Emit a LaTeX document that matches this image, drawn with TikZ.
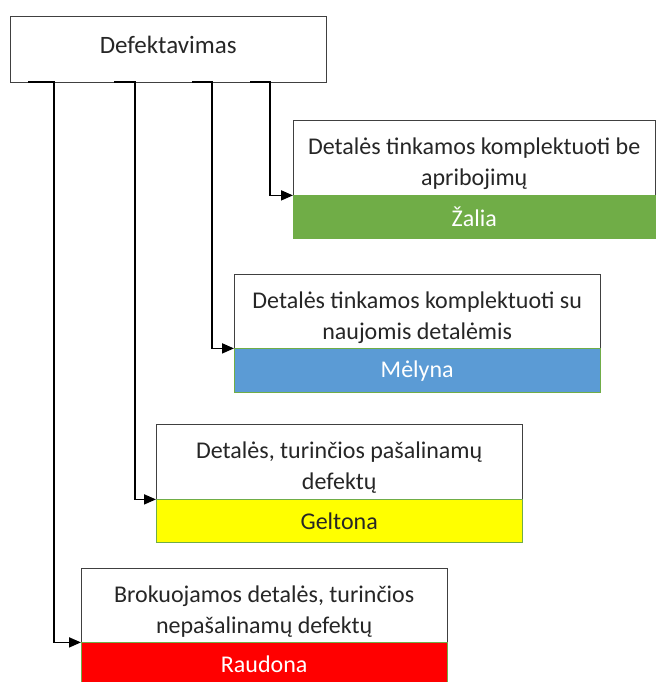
\documentclass[tikz,border=0pt]{standalone}
\usepackage{fontspec}
\setmainfont{Carlito}
\usepackage{xcolor}
\usetikzlibrary{arrows.meta,positioning}

\definecolor{zaliaC}{HTML}{70AD47}
\definecolor{melynaC}{HTML}{5B9BD5}
\definecolor{geltonaC}{HTML}{FFFF00}
\definecolor{raudonaC}{HTML}{FF0000}

% extra room above the first line
\newcommand{\topgap}{\rule{0pt}{29pt}}

\begin{document}
\begin{tikzpicture}[x=1pt, y=-1pt,
    txtbox/.style={rectangle, draw=black!75, fill=white, minimum width=366pt, minimum height=75pt, inner sep=0pt, align=center, anchor=north west, font=\fontsize{24}{31}\selectfont, text=black!85},
    strip/.style={rectangle, draw=zaliaC, minimum width=366pt, minimum height=43pt, inner sep=0pt, font=\fontsize{24}{28}\selectfont, text=white},
    link/.style={-{Triangle[length=12pt, width=10pt]}, line width=1.8pt}
]
\useasboundingbox (0,0) rectangle (656,682);

% Root
\node[rectangle, draw=black!75, minimum width=316pt, minimum height=66pt, anchor=north west, font=\fontsize{25}{28}\selectfont, text=black!85] (def) at (10,16) {\raisebox{9pt}{Defektavimas}};

% Groups
\node[txtbox, minimum width=362pt] (tinka) at (293,120) {\topgap Detalės tinkamos komplektuoti be\\apribojimų};
\node[strip, fill=zaliaC, minimum width=362pt, below=0pt of tinka] (zalia) {Žalia};

\node[txtbox, minimum height=74pt] (naujos) at (234,274) {\topgap Detalės tinkamos komplektuoti su\\naujomis detalėmis};
\node[strip, fill=melynaC, minimum height=44pt, below=0pt of naujos] (melyna) {Mėlyna};

\node[txtbox] (salin) at (156,424) {\topgap Detalės, turinčios pašalinamų\\defektų};
\node[strip, fill=geltonaC, text=black!85, below=0pt of salin] (geltona) {Geltona};

\node[txtbox, minimum height=74pt] (brok) at (81,568) {\topgap Brokuojamos detalės, turinčios\\nepašalinamų defektų};
\node[strip, fill=raudonaC, below=0pt of brok] (raudona) {Raudona};

% Links
\draw[link] (def.south west) ++(18,0) -- ++(26,0) |- (brok.south west);
\draw[link] (def.south west) ++(104,0) -- ++(21,0) |- (salin.south west);
\draw[link] (def.south west) ++(182,0) -- ++(20,0) |- (naujos.south west);
\draw[link] (def.south west) ++(240,0) -- ++(20,0) |- (tinka.south west);

\end{tikzpicture}
\end{document}
